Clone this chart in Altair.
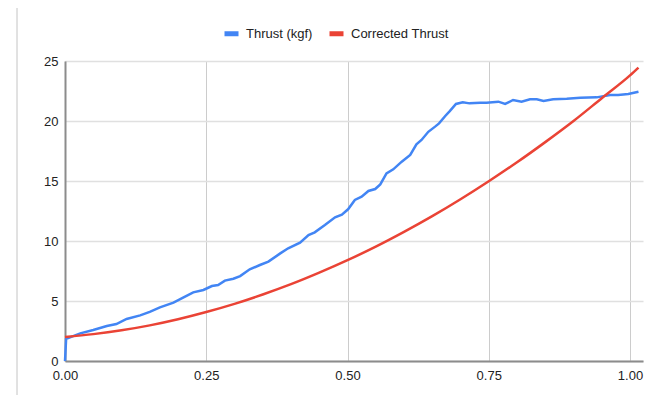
import altair as alt
import pandas as pd

# Thrust (kgf) series
thrust_x = [0.000, 0.002, 0.027, 0.050, 0.074, 0.091, 0.109, 0.133, 0.150, 0.168,
            0.192, 0.209, 0.227, 0.245, 0.260, 0.271, 0.283, 0.298, 0.310, 0.327,
            0.345, 0.360, 0.381, 0.395, 0.416, 0.431, 0.442, 0.460, 0.478, 0.490,
            0.501, 0.513, 0.525, 0.537, 0.549, 0.558, 0.569, 0.581, 0.596, 0.611,
            0.622, 0.631, 0.643, 0.655, 0.662, 0.673, 0.681, 0.692, 0.704, 0.716,
            0.735, 0.746, 0.767, 0.779, 0.793, 0.808, 0.823, 0.835, 0.847, 0.864,
            0.888, 0.912, 0.941, 0.965, 0.979, 0.997, 1.015]
thrust_y = [0.00, 1.85, 2.30, 2.58, 2.92, 3.08, 3.50, 3.80, 4.10, 4.47,
            4.86, 5.28, 5.72, 5.92, 6.25, 6.33, 6.70, 6.86, 7.08, 7.64,
            8.00, 8.28, 8.97, 9.39, 9.86, 10.50, 10.72, 11.33, 11.97, 12.20,
            12.64, 13.42, 13.70, 14.17, 14.33, 14.72, 15.64, 15.97, 16.61, 17.17,
            18.06, 18.42, 19.10, 19.53, 19.80, 20.42, 20.83, 21.42, 21.56, 21.47,
            21.53, 21.53, 21.61, 21.42, 21.75, 21.61, 21.81, 21.81, 21.67, 21.81,
            21.86, 21.94, 21.97, 22.17, 22.17, 22.25, 22.44]

# Corrected Thrust series
corr_x = [0.00, 0.05, 0.10, 0.15, 0.20, 0.25, 0.30, 0.35, 0.40, 0.45, 0.50,
          0.55, 0.60, 0.65, 0.70, 0.75, 0.80, 0.85, 0.90, 0.95, 1.00, 1.015]
corr_y = [2.00, 2.24, 2.56, 2.97, 3.48, 4.08, 4.76, 5.54, 6.40, 7.36, 8.40,
          9.53, 10.76, 12.07, 13.48, 14.98, 16.56, 18.24, 20.00, 21.90, 23.80, 24.45]

series_names = ["Thrust (kgf)", "Corrected Thrust"]
series_colors = ["#4285F4", "#EA4335"]

x_ticks = [0, 0.25, 0.5, 0.75, 1.0]
y_ticks = [0, 5, 10, 15, 20, 25]

df_t = pd.DataFrame({"x": thrust_x, "y": thrust_y, "series": series_names[0]})
df_c = pd.DataFrame({"x": corr_x, "y": corr_y, "series": series_names[1]})

FONT = "Liberation Sans"

x_enc = alt.X("x:Q", scale=alt.Scale(domain=[0, 1.023], nice=False, zero=False),
              axis=alt.Axis(values=x_ticks, format=".2f", labelFlush=False, ticks=False,
                            labelPadding=8, gridColor="#cccccc", gridWidth=1,
                            domainColor="#8c8c8c", domainWidth=2, title=None,
                            labelFontSize=13, labelColor="#222222", labelFont=FONT))
y_enc = alt.Y("y:Q", scale=alt.Scale(domain=[0, 25], nice=False),
              axis=alt.Axis(values=y_ticks, ticks=False, labelPadding=7,
                            gridColor="#e0e0e0", gridWidth=1.5,
                            domainColor="#8c8c8c", domainWidth=2, title=None,
                            labelFontSize=13, labelColor="#222222", labelFont=FONT))
color_enc = alt.Color("series:N",
                      scale=alt.Scale(domain=series_names, range=series_colors),
                      legend=alt.Legend(title=None, orient="none", direction="horizontal",
                                        legendX=157, legendY=-37,
                                        symbolType="stroke",
                                        symbolSize=196, symbolStrokeWidth=5,
                                        labelOffset=5, columnPadding=6,
                                        labelFontSize=13, labelColor="#222222",
                                        labelFont=FONT))

border = alt.Chart(pd.DataFrame({"k": [0]})).mark_rect(
    filled=False, stroke="#c4c4c4", strokeWidth=1, clip=False
).encode(x=alt.value(-48), x2=alt.value(600), y=alt.value(-60), y2=alt.value(336))

blue = alt.Chart(df_t).mark_line(strokeWidth=2.5).encode(
    x=x_enc, y=y_enc, color=color_enc, order="x:Q")
red = alt.Chart(df_c).mark_line(strokeWidth=2.5, interpolate="monotone").encode(
    x=x_enc, y=y_enc, color=color_enc, order="x:Q")

chart = alt.layer(border, blue, red).properties(
    width=578, height=300,
    autosize=alt.AutoSizeParams(type="none"),
    padding={"left": 57, "top": 53, "right": 12, "bottom": 34},
    background="white",
).configure_view(stroke=None)

chart.save("out.html", embed_options={"renderer": "svg", "actions": False})
